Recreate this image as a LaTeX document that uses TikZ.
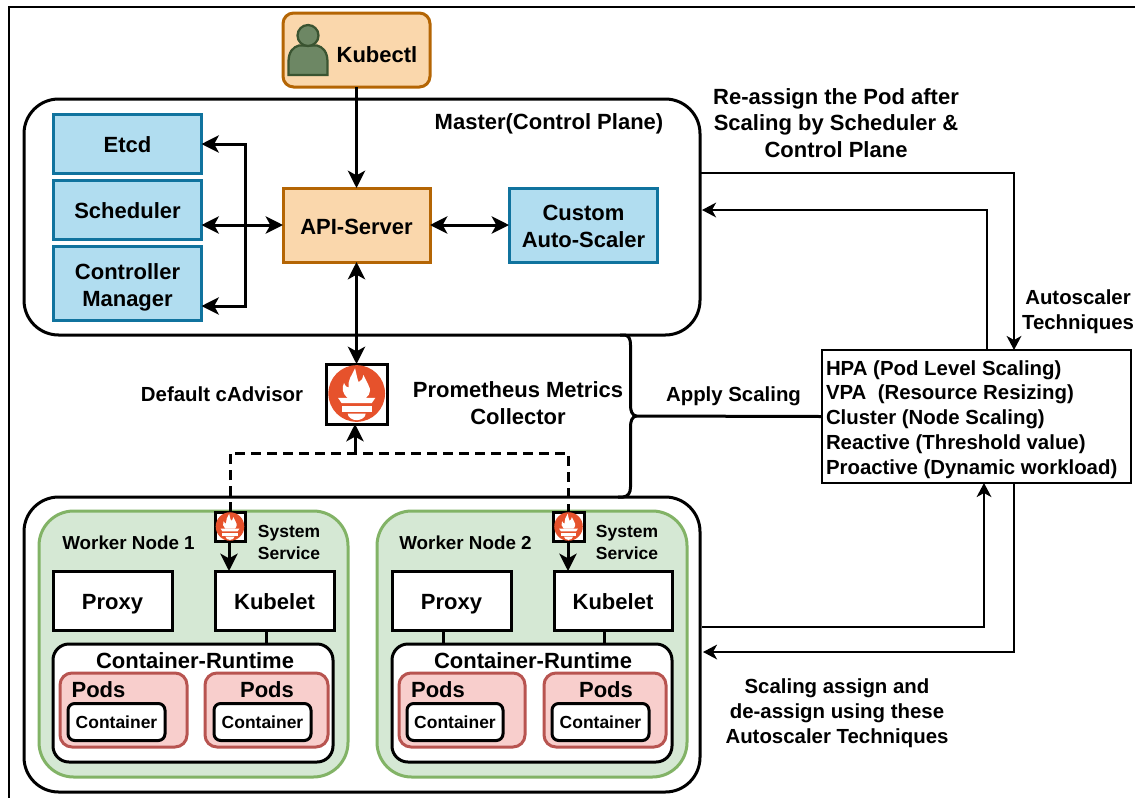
\documentclass[tikz,border=0pt]{standalone}
\usepackage{fontspec}
\setmainfont{Liberation Sans}
\usetikzlibrary{arrows.meta}
\definecolor{orF}{HTML}{FAD7AC}\definecolor{orD}{HTML}{B46504}
\definecolor{blF}{HTML}{B1DDF0}\definecolor{blD}{HTML}{10739E}
\definecolor{grF}{HTML}{D5E8D4}\definecolor{grD}{HTML}{82B366}
\definecolor{reF}{HTML}{F8CECC}\definecolor{reD}{HTML}{B85450}
\definecolor{peF}{HTML}{6D8764}\definecolor{peD}{HTML}{3A5431}
\definecolor{prom}{HTML}{E6522C}
\newcommand{\fA}{\fontsize{16.5pt}{20pt}\selectfont\bfseries}
\newcommand{\fB}{\fontsize{15.3pt}{18.6pt}\selectfont\bfseries}
\newcommand{\fC}{\fontsize{14.1pt}{17pt}\selectfont\bfseries}
\newcommand{\fD}{\fontsize{13.1pt}{16.5pt}\selectfont\bfseries}
% box from corners (x1,y1) to (x2,y2), in image pixels
\newcommand{\pxbox}[7]{\node[#1,minimum width={(#5-#3)*0.75pt},minimum height={(#6-#4)*0.75pt}] (#2) at ({(#3+#5)/2},{(#4+#6)/2}) {#7};}
% Prometheus logo: centre (x,y), size factor
\newcommand{\promlogo}[3]{%
\begin{scope}[shift={(#1,#2)},x={#3*0.75pt},y={-#3*0.75pt}]
\fill[prom] (0,0) circle [radius=85];
\fill[white] (-28,13) .. controls (-42,0) and (-46,-15) .. (-38,-32)
  .. controls (-34,-22) and (-30,-18) .. (-24,-18)
  .. controls (-28,-40) and (-14,-55) .. (-5,-76)
  .. controls (0,-55) and (2,-42) .. (6,-34)
  .. controls (14,-38) and (18,-44) .. (20,-56)
  .. controls (30,-35) and (42,-15) .. (40,-8)
  .. controls (40,0) and (34,8) .. (28,13) -- cycle;
\fill[white] (-56,13) -- (56,13) -- (45,29) -- (-45,29) -- cycle;
\fill[white] (-45,37) rectangle (45,55);
\fill[white] (-27,60) -- (27,60) .. controls (27,72) and (12,80) .. (0,80) .. controls (-12,80) and (-27,72) .. (-27,60) -- cycle;
\end{scope}}
\begin{document}
\begin{tikzpicture}[x=0.75pt,y=-0.75pt,
  every node/.style={inner sep=0pt,outer sep=0pt,align=center},
  boxlabel/.style={font=\fA,text height=17pt,text depth=3pt},
  roundbig/.style={draw=black,line width=2.25pt,rounded corners=26pt,fill=white},
  kbox/.style={draw=orD,fill=orF,line width=2.25pt},
  bbox/.style={draw=blD,fill=blF,line width=2.25pt},
  wbox/.style={draw=black,fill=white,line width=2.25pt},
  worker/.style={draw=grD,fill=grF,line width=2.25pt,rounded corners=26pt},
  runtime/.style={draw=black,fill=white,line width=2.25pt,rounded corners=12pt},
  podbox/.style={draw=reD,fill=reF,line width=2.25pt,rounded corners=9pt},
  contbox/.style={draw=black,fill=white,line width=2.25pt,rounded corners=5pt},
  logobox/.style={draw=black,fill=white,line width=2.25pt},
  thick line/.style={line width=2.25pt,draw=black},
  thin line/.style={line width=1.7pt,draw=black},
  arr/.style={thick line,-{Stealth[length=13pt,width=13pt,inset=3.5pt]}},
  dbl/.style={thick line,{Stealth[length=13pt,width=13pt,inset=3.5pt]}-{Stealth[length=13pt,width=13pt,inset=3.5pt]}},
  thinarr/.style={thin line,-{Stealth[length=10.5pt,width=11pt,inset=3pt]}},
  dashline/.style={line width=2.25pt,draw=black,dash pattern=on 7.5pt off 4.5pt},
]
\useasboundingbox (0,0) rectangle (1135,797);
\draw[line width=1.7pt] (1140,7) -- (9,7) -- (9,802);

\pxbox{roundbig}{master}{24}{99}{700}{335}{}
\pxbox{roundbig}{wnodes}{24}{497}{700}{792}{}

% top
\pxbox{kbox,rounded corners=8pt}{kubectl}{283}{13}{430}{87}{}
\fill[peF,draw=peD,line width=1.7pt] (288.5,75) -- (288.5,62) .. controls (288.5,52) and (293,47) .. (299,45.5) -- (317,45.5) .. controls (323,47) and (327.5,52) .. (327.5,62) -- (327.5,75) -- cycle;
\fill[peF,draw=peD,line width=1.7pt] (308,35.5) circle [radius=10.5];
\node[font=\fA] (kubectltxt) at (377,55) {Kubectl};

% control plane
\pxbox{bbox,boxlabel}{etcd}{53.5}{114}{201.5}{173}{Etcd}
\pxbox{bbox,boxlabel}{sched}{53.5}{180}{201.5}{239}{Scheduler}
\pxbox{bbox}{cm}{53.5}{246}{201.5}{320}{}
\node[font=\fA] (cmtxt) at (127.5,287.5) {Controller\\Manager};
\pxbox{kbox,boxlabel}{api}{283}{188}{430}{262}{API-Server}
\pxbox{bbox}{custom}{509}{188}{657}{262}{}
\node[font=\fA] (customtxt) at (583.5,226.5) {Custom\\Auto-Scaler};
\node[font=\fA] (mastertxt) at (549,124) {Master(Control Plane)};

\coordinate (busT) at (245,144);
\coordinate (busB) at (245,306);
\coordinate (cmIn) at (201.5,306);
\coordinate (schedIn) at (201.5,225);
\draw[dbl] (etcd.east |- busT) -- (busT) -- (busB) -- (cmIn);
\draw[dbl] (schedIn) -- (api.west);
\draw[dbl] (api.east) -- (custom.west);
\draw[arr] (kubectl.south) -- (api.north);

% Prometheus
\pxbox{logobox}{promnode}{326}{364}{387}{424}{}
\promlogo{356.7}{393.5}{0.3333}
\draw[dbl] (api.south) -- (promnode.north);
\node[font=\fB] (cadv) at (222,394) {Default cAdvisor};
\node[font=\fA] (promtxt) at (518,403) {Prometheus Metrics\\Collector};

% workers
\pxbox{worker}{w1}{39}{511}{348}{777}{}
\pxbox{worker}{w2}{377}{511}{687}{777}{}
\pxbox{wbox,boxlabel}{proxy1}{53}{571}{172}{630}{Proxy}
\pxbox{wbox,boxlabel}{kub1}{215}{571}{334}{630}{Kubelet}
\pxbox{wbox,boxlabel}{proxy2}{392}{571}{511}{630}{Proxy}
\pxbox{wbox,boxlabel}{kub2}{554}{571}{672}{630}{Kubelet}
\pxbox{runtime}{rt1}{53}{644}{333}{762}{}
\pxbox{runtime}{rt2}{392}{644}{672}{762}{}
\node[font=\fA] (rt1txt) at (195,661) {Container-Runtime};
\node[font=\fA] (rt2txt) at (533,661) {Container-Runtime};
\pxbox{podbox}{p11}{60}{673}{187}{747}{}
\pxbox{podbox}{p12}{205}{673}{328}{747}{}
\pxbox{podbox}{p21}{399}{673}{525}{747}{}
\pxbox{podbox}{p22}{544}{673}{666}{747}{}
\node[font=\fA] (p11t) at (98.5,690) {Pods};
\node[font=\fA] (p12t) at (267,690) {Pods};
\node[font=\fA] (p21t) at (438,690) {Pods};
\node[font=\fA] (p22t) at (606,690) {Pods};
\pxbox{contbox,font=\fD}{c11}{68}{703.5}{165}{740.5}{Container}
\pxbox{contbox,font=\fD}{c12}{214}{703.5}{311}{740.5}{Container}
\pxbox{contbox,font=\fD}{c21}{407}{703.5}{503}{740.5}{Container}
\pxbox{contbox,font=\fD}{c22}{552}{703.5}{649}{740.5}{Container}
\node[font=\fC] (w1t) at (128.5,543) {Worker Node 1};
\node[font=\fC] (w2t) at (465.5,543) {Worker Node 2};
\node[font=\fD] (ss1) at (289,542) {System\\Service};
\node[font=\fD] (ss2) at (627,542) {System\\Service};

\coordinate (k1b) at (266,630);
\coordinate (r1t) at (266,644);
\coordinate (k2b) at (604,630);
\coordinate (r2t) at (604,644);
\coordinate (x2b) at (443,630);
\coordinate (x2t) at (443,644);
\draw[thick line] (k1b) -- (r1t);
\draw[thick line] (k2b) -- (r2t);
\draw[thick line] (x2b) -- (x2t);

\pxbox{logobox}{pl1}{215}{512}{245}{541}{}
\pxbox{logobox}{pl2}{553}{512}{584}{541}{}
\promlogo{230}{526.5}{0.168}
\promlogo{568.5}{526.5}{0.168}
\coordinate (k1in) at (229,571);
\coordinate (k2in) at (568,571);
\coordinate (p1out) at (229,541);
\coordinate (p2out) at (568,541);
\draw[arr] (p1out) -- (k1in);
\draw[arr] (p2out) -- (k2in);

% dashed collection
\coordinate (dL) at (230,453);
\coordinate (dR) at (568,453);
\coordinate (dM) at (355,453);
\coordinate (pTop) at (230,512);
\coordinate (qTop) at (568,512);
\draw[dashline] (pTop) -- (dL) -- (dR) -- (qTop);
\draw[arr] (dM) -- (promnode.south -| dM);

% autoscaler
\node[draw=black,fill=white,line width=1.7pt,minimum width={309*0.75pt},minimum height={133*0.75pt}] (hpa) at (976.5,416.5) {};
\node[font=\fB,align=left,anchor=west] (hpatxt) at (826,419.5) {HPA (Pod Level Scaling)\\VPA\ \ (Resource Resizing)\\Cluster (Node Scaling)\\Reactive (Threshold value)\\Proactive (Dynamic workload)};

% brace
\coordinate (brT) at (620,335);
\coordinate (brB) at (618,497);
\coordinate (brM) at (636,416);
\draw[thick line] (brT) -- (625,335) .. controls (629,336) and (630.5,339) .. (630.5,345) -- (630.5,405) .. controls (630.5,411) and (632,415) .. (brM) .. controls (632,417) and (630.5,421) .. (630.5,427) -- (630.5,487) .. controls (630.5,493) and (628,496.5) .. (623,497) -- (brB);
\draw[thick line] (brM) -- (hpa.west);

% right connectors
\coordinate (m1) at (701,173);
\coordinate (m1c) at (1014,173);
\coordinate (h1) at (1014,350);
\coordinate (m2) at (702,210);
\coordinate (m2c) at (987,210);
\coordinate (h2) at (987,350);
\coordinate (w3) at (702,627);
\coordinate (w3c) at (984,627);
\coordinate (h3) at (984,483);
\coordinate (h4) at (1014,483);
\coordinate (w4c) at (1014,652);
\coordinate (w4) at (703,652);
\draw[thinarr] (m1) -- (m1c) -- (h1);
\draw[thinarr] (h2) -- (m2c) -- (m2);
\draw[thinarr] (w3) -- (w3c) -- (h3);
\draw[thinarr] (h4) -- (w4c) -- (w4);

\node[font=\fA] (reassign) at (836,123) {Re-assign the Pod after\\Scaling by Scheduler \&\\Control Plane};
\node[font=\fB] (autotech) at (1078,311.5) {Autoscaler\\Techniques};
\node[font=\fB] (apply) at (733.5,396) {Apply Scaling};
\node[font=\fB] (assign) at (837,713) {Scaling assign and\\de-assign using these\\Autoscaler Techniques};
\end{tikzpicture}
\end{document}
